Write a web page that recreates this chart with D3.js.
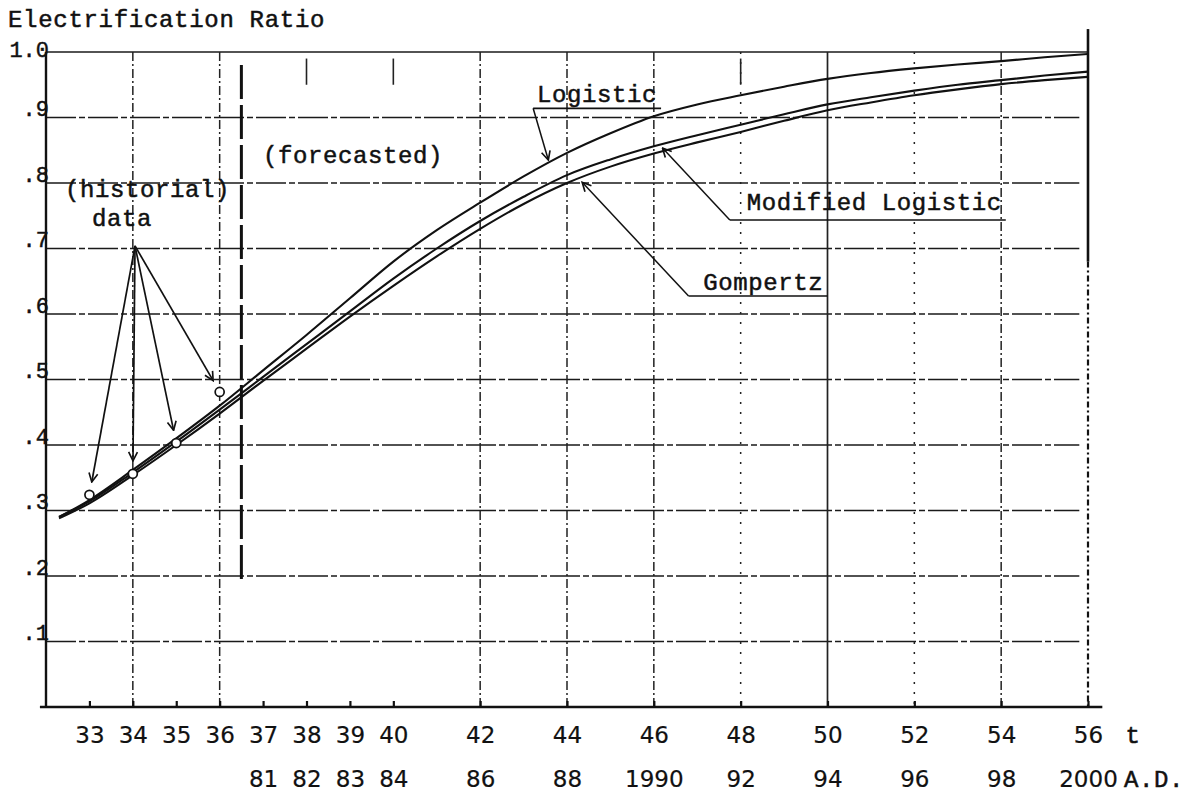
<!DOCTYPE html>
<html>
<head>
<meta charset="utf-8">
<script src="https://cdn.jsdelivr.net/npm/d3@7"></script>
<style>
  body { margin: 0; background: #fff; }
  svg { display: block; background: #fff; }
  .tw { font-family: "Liberation Mono", "Courier New", monospace; font-size: 24px; letter-spacing: 0.6px; fill: #111; stroke: #111; stroke-width: 0.5px; }
  .ytick text { font-family: "Liberation Mono", "Courier New", monospace; font-size: 22px; fill: #111; stroke: #111; stroke-width: 0.45px; }
  .xtick text { font-family: "DejaVu Sans", sans-serif; font-size: 23px; fill: #111; stroke: #111; stroke-width: 0.2px; }
</style>
</head>
<body>
<svg id="chart" width="1195" height="794"></svg>
<script>
// t axis (top row) and calendar years (bottom row)
const tValues = [32.3, 33, 34, 35, 36, 37, 38, 39, 40, 41, 42, 43, 44, 45, 46, 47, 48, 49, 50, 51, 52, 53, 54, 55, 56];
const logistic = [0.290, 0.316, 0.362, 0.410, 0.460, 0.514, 0.568, 0.624, 0.680, 0.728, 0.770, 0.810, 0.846, 0.876, 0.902, 0.920, 0.934, 0.947, 0.959, 0.968, 0.975, 0.981, 0.986, 0.992, 0.997];
const modifiedLogistic = [0.290, 0.314, 0.358, 0.405, 0.454, 0.504, 0.554, 0.604, 0.654, 0.700, 0.742, 0.779, 0.812, 0.836, 0.856, 0.873, 0.889, 0.905, 0.920, 0.931, 0.941, 0.950, 0.957, 0.964, 0.970];
const gompertz = [0.288, 0.311, 0.354, 0.400, 0.448, 0.498, 0.547, 0.596, 0.643, 0.688, 0.730, 0.768, 0.800, 0.825, 0.845, 0.862, 0.878, 0.895, 0.911, 0.923, 0.934, 0.943, 0.951, 0.957, 0.962];

// historical data points
const histT = [33, 34, 35, 36];
const histRatio = [0.324, 0.356, 0.403, 0.481];

const yTickValues = [0.1, 0.2, 0.3, 0.4, 0.5, 0.6, 0.7, 0.8, 0.9, 1.0];
const yTickLabels = [".1", ".2", ".3", ".4", ".5", ".6", ".7", ".8", ".9", "1.0"];

const tTicks = [33, 34, 35, 36, 37, 38, 39, 40, 42, 44, 46, 48, 50, 52, 54, 56];
const yearTicks = [37, 38, 39, 40, 42, 44, 46, 48, 50, 52, 54, 56];
const yearLabels = ["81", "82", "83", "84", "86", "88", "1990", "92", "94", "96", "98", "2000"];

const gridT = [34, 36, 42, 44, 46, 48, 50, 52, 54];
const topMarksT = [38, 40, 48];
const forecastT = 36.5;

const svg = d3.select("#chart");
const x = d3.scaleLinear().domain([32, 56]).range([46, 1088]);
const y = d3.scaleLinear().domain([0, 1]).range([707, 52]);

// marker for the open arrow heads
svg.append("defs").append("marker")
  .attr("id", "arr")
  .attr("viewBox", "0 0 10 10")
  .attr("refX", 9).attr("refY", 5)
  .attr("markerWidth", 11).attr("markerHeight", 11)
  .attr("markerUnits", "userSpaceOnUse")
  .attr("orient", "auto")
  .append("path")
  .attr("d", "M1,1 L9,5 L1,9")
  .attr("fill", "none").attr("stroke", "#111").attr("stroke-width", 1.5);

// horizontal grid
svg.append("g").selectAll("line")
  .data(yTickValues)
  .enter().append("line")
  .attr("x1", x(32)).attr("x2", d => d === 1 ? x(56) : x(55.8))
  .attr("y1", d => y(d)).attr("y2", d => y(d))
  .attr("stroke", "#1a1a1a").attr("stroke-width", 1.7)
  .attr("stroke-dasharray", d => d === 1 ? null : "30,3,6,3");

// vertical grid (dash-dot)
svg.append("g").selectAll("line")
  .data(gridT)
  .enter().append("line")
  .attr("x1", d => x(d)).attr("x2", d => x(d))
  .attr("y1", y(1)).attr("y2", y(0))
  .attr("stroke", "#222").attr("stroke-width", d => d === 50 ? 1.7 : 1.5)
  .attr("stroke-dasharray", d => d === 50 ? null : (d === 48 || d === 52 ? "2,8" : "9,3,2,3"));

// short marks near top
svg.append("g").selectAll("line")
  .data(topMarksT)
  .enter().append("line")
  .attr("x1", d => x(d)).attr("x2", d => x(d))
  .attr("y1", y(0.99)).attr("y2", y(0.95))
  .attr("stroke", "#222").attr("stroke-width", 1.6);

// forecast divider
svg.append("line")
  .attr("x1", x(forecastT)).attr("x2", x(forecastT))
  .attr("y1", y(0.98)).attr("y2", y(0.19))
  .attr("stroke", "#111").attr("stroke-width", 3)
  .attr("stroke-dasharray", "34,6");

// axes frame
svg.append("line")
  .attr("x1", x(32)).attr("x2", x(32)).attr("y1", y(1)).attr("y2", y(0))
  .attr("stroke", "#111").attr("stroke-width", 2.4);
svg.append("line")
  .attr("x1", x(31.86)).attr("x2", x(56.33)).attr("y1", y(0)).attr("y2", y(0))
  .attr("stroke", "#111").attr("stroke-width", 2.6);
svg.append("line")
  .attr("x1", x(56)).attr("x2", x(56)).attr("y1", y(1.035)).attr("y2", y(0.68))
  .attr("stroke", "#111").attr("stroke-width", 2.6);
svg.append("line")
  .attr("x1", x(56)).attr("x2", x(56)).attr("y1", y(0.68)).attr("y2", y(0))
  .attr("stroke", "#111").attr("stroke-width", 2.2)
  .attr("stroke-dasharray", "6,3,2,3");

// y axis labels
const yAxis = svg.append("g")
  .attr("class", "ytick")
  .attr("transform", "translate(49,0)")
  .call(d3.axisLeft(y).tickValues(yTickValues).tickSize(0).tickPadding(0)
    .tickFormat((d, i) => yTickLabels[i]));
yAxis.select(".domain").remove();
yAxis.selectAll("text").attr("dy", d => d === 1 ? "4px" : "-2px");

// x axis: t row
const tAxis = svg.append("g")
  .attr("class", "xtick")
  .attr("transform", `translate(0,${y(0)})`)
  .call(d3.axisBottom(x).tickValues(tTicks).tickSize(-6).tickPadding(20).tickFormat(d => d));
tAxis.select(".domain").remove();
tAxis.selectAll("line").attr("stroke", "#111").attr("stroke-width", 2.2);

// x axis: calendar year row
const yearAxis = svg.append("g")
  .attr("class", "xtick")
  .attr("transform", `translate(0,${y(0)})`)
  .call(d3.axisBottom(x).tickValues(yearTicks).tickSize(0).tickPadding(64)
    .tickFormat((d, i) => yearLabels[i]));
yearAxis.select(".domain").remove();

svg.append("text").attr("class", "tw")
  .attr("x", x(56) + 45).attr("y", y(0) + 36)
  .attr("text-anchor", "middle").text("t");
svg.append("text").attr("class", "tw")
  .attr("x", x(56) + 36).attr("y", y(0) + 80)
  .text("A.D.");

// title
svg.append("text").attr("class", "tw")
  .attr("x", 8).attr("y", 27)
  .attr("textLength", 317).attr("lengthAdjust", "spacing")
  .text("Electrification Ratio");

// curves
const line = d3.line()
  .x((d, i) => x(tValues[i]))
  .y(d => y(d))
  .curve(d3.curveMonotoneX);

[logistic, modifiedLogistic, gompertz].forEach(series => {
  svg.append("path")
    .datum(series)
    .attr("d", line)
    .attr("fill", "none")
    .attr("stroke", "#111")
    .attr("stroke-width", 2.1);
});

// historical points + arrows
const apex = [x(34.05), y(0.704)];
const hist = histT.map((t, i) => ({ cx: x(t), cy: y(histRatio[i]) }));

svg.append("g").selectAll("line")
  .data(hist)
  .enter().append("line")
  .attr("x1", apex[0]).attr("y1", apex[1])
  .attr("x2", d => {
    const dx = apex[0] - d.cx, dy = apex[1] - d.cy, L = Math.hypot(dx, dy);
    return d.cx + dx / L * 13;
  })
  .attr("y2", d => {
    const dx = apex[0] - d.cx, dy = apex[1] - d.cy, L = Math.hypot(dx, dy);
    return d.cy + dy / L * 13;
  })
  .attr("stroke", "#111").attr("stroke-width", 1.7)
  .attr("marker-end", "url(#arr)");

svg.append("g").selectAll("circle")
  .data(hist)
  .enter().append("circle")
  .attr("cx", d => d.cx).attr("cy", d => d.cy)
  .attr("r", 4.5)
  .attr("fill", "#fff").attr("stroke", "#111").attr("stroke-width", 1.7);

// text annotations
svg.append("text").attr("class", "tw")
  .attr("x", x(37.0)).attr("y", y(0.830)).text("(forecasted)");
svg.append("text").attr("class", "tw")
  .attr("x", x(32.44)).attr("y", y(0.779)).text("(historial)");
svg.append("text").attr("class", "tw")
  .attr("x", x(33.06)).attr("y", y(0.734)).text("data");

function valueAt(series, t) {
  const i = d3.bisectLeft(tValues, t);
  const t0 = tValues[i - 1], t1 = tValues[i];
  return series[i - 1] + (series[i] - series[i - 1]) * (t - t0) / (t1 - t0);
}

// labelled curve with underline and pointer
function curveLabel(text, tx, vy, underlineV, underlineStartT, series, targetT, tipOffset) {
  const label = svg.append("text").attr("class", "tw")
    .attr("x", x(tx)).attr("y", y(vy)).text(text);
  const w = label.node().getComputedTextLength();
  const ux0 = x(underlineStartT);
  const uy = y(underlineV);
  svg.append("line")
    .attr("x1", ux0).attr("x2", x(tx) + w + 4)
    .attr("y1", uy).attr("y2", uy)
    .attr("stroke", "#111").attr("stroke-width", 1.7);
  svg.append("line")
    .attr("x1", ux0).attr("y1", uy)
    .attr("x2", x(targetT)).attr("y2", y(valueAt(series, targetT)) + tipOffset)
    .attr("stroke", "#111").attr("stroke-width", 1.5)
    .attr("marker-end", "url(#arr)");
}

curveLabel("Logistic", 43.31, 0.924, 0.914, 43.22, logistic, 43.57, -3);
curveLabel("Modified Logistic", 48.14, 0.759, 0.7435, 47.75, modifiedLogistic, 46.2, 4);
curveLabel("Gompertz", 47.14, 0.637, 0.6275, 46.8, gompertz, 44.35, 5);
</script>
</body>
</html>
